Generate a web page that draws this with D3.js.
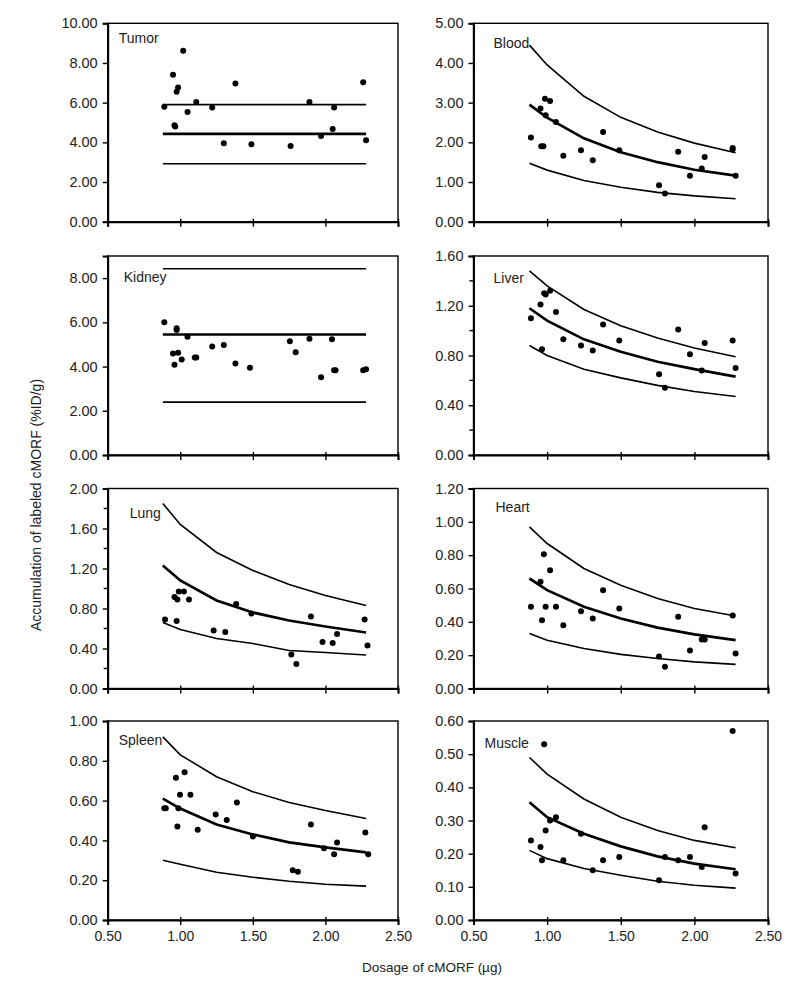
<!DOCTYPE html>
<html><head><meta charset="utf-8">
<script src="https://cdn.jsdelivr.net/npm/d3@7"></script>
<style>
html,body{margin:0;padding:0;background:#fff;}
svg{display:block;font-family:"Liberation Sans",Arial,sans-serif;}
</style></head>
<body><svg id="chart" width="800" height="987"></svg>
<script>
// ---------- data ----------
const organs = ["Tumor","Blood","Kidney","Liver","Lung","Heart","Spleen","Muscle"];
const yMaxes = [10, 5, 9, 1.6, 2.0, 1.2, 1.0, 0.6];
const yTicks = [
  [0,2,4,6,8,10],[0,1,2,3,4,5],[0,2,4,6,8],[0,0.4,0.8,1.2,1.6],
  [0,0.4,0.8,1.2,1.6,2.0],[0,0.2,0.4,0.6,0.8,1.0,1.2],[0,0.2,0.4,0.6,0.8,1.0],[0,0.1,0.2,0.3,0.4,0.5,0.6]
];
const xTicks = [0.5, 1.0, 1.5, 2.0, 2.5];

const tumorPoints = [[0.89,5.80],[0.95,7.41],[0.96,4.86],[0.965,4.80],[0.975,6.55],[0.985,6.77],[1.02,8.62],[1.05,5.53],[1.11,6.03],[1.22,5.75],[1.30,3.95],[1.38,6.96],[1.49,3.90],[1.76,3.82],[1.89,6.03],[1.97,4.32],[2.05,4.67],[2.06,5.75],[2.26,7.03],[2.28,4.10]];
const bloodPoints = [[0.89,2.12],[0.955,2.85],[0.96,1.90],[0.975,1.90],[0.985,3.10],[0.99,2.68],[1.02,3.04],[1.06,2.51],[1.11,1.66],[1.23,1.80],[1.31,1.55],[1.38,2.26],[1.49,1.80],[1.76,0.92],[1.80,0.71],[1.89,1.76],[1.97,1.16],[2.05,1.34],[2.07,1.63],[2.26,1.86],[2.26,1.82],[2.28,1.16]];
const kidneyPoints = [[0.89,6.00],[0.95,4.59],[0.96,4.08],[0.975,5.73],[0.975,5.65],[0.985,4.62],[1.01,4.32],[1.05,5.35],[1.10,4.41],[1.11,4.41],[1.22,4.91],[1.30,4.97],[1.38,4.14],[1.48,3.95],[1.755,5.15],[1.795,4.65],[1.89,5.26],[1.97,3.52],[2.045,5.24],[2.06,3.83],[2.07,3.83],[2.26,3.83],[2.28,3.88]];
const liverPoints = [[0.89,1.10],[0.955,1.21],[0.965,0.85],[0.98,1.30],[0.99,1.29],[1.02,1.32],[1.06,1.15],[1.11,0.93],[1.23,0.88],[1.31,0.84],[1.38,1.05],[1.49,0.92],[1.76,0.65],[1.80,0.54],[1.89,1.01],[1.97,0.81],[2.05,0.68],[2.07,0.90],[2.26,0.92],[2.28,0.70]];
const lungPoints = [[0.895,0.69],[0.96,0.915],[0.975,0.675],[0.98,0.89],[0.99,0.97],[1.025,0.97],[1.06,0.89],[1.23,0.58],[1.31,0.565],[1.385,0.845],[1.49,0.75],[1.765,0.34],[1.80,0.246],[1.90,0.72],[1.98,0.466],[2.05,0.456],[2.08,0.546],[2.27,0.69],[2.29,0.43]];
const heartPoints = [[0.89,0.49],[0.955,0.64],[0.965,0.41],[0.978,0.806],[0.99,0.49],[1.02,0.71],[1.06,0.49],[1.11,0.38],[1.23,0.464],[1.31,0.42],[1.38,0.59],[1.49,0.48],[1.76,0.192],[1.80,0.13],[1.89,0.43],[1.97,0.228],[2.05,0.294],[2.07,0.294],[2.26,0.438],[2.28,0.21]];
const spleenPoints = [[0.89,0.562],[0.90,0.562],[0.97,0.715],[0.98,0.47],[0.987,0.562],[0.998,0.63],[1.03,0.743],[1.07,0.63],[1.12,0.453],[1.244,0.53],[1.32,0.503],[1.39,0.59],[1.50,0.42],[1.775,0.25],[1.81,0.243],[1.90,0.48],[1.99,0.36],[2.06,0.33],[2.08,0.39],[2.275,0.44],[2.295,0.33]];
const musclePoints = [[0.89,0.24],[0.955,0.22],[0.965,0.18],[0.98,0.53],[0.99,0.27],[1.02,0.30],[1.06,0.31],[1.11,0.18],[1.23,0.26],[1.31,0.15],[1.38,0.18],[1.49,0.19],[1.76,0.12],[1.80,0.19],[1.89,0.18],[1.97,0.19],[2.05,0.16],[2.07,0.28],[2.26,0.57],[2.28,0.14]];

// fitted curves (upper, mean, lower) read at these doses
const curveDose = [0.88, 1.00, 1.25, 1.50, 1.75, 2.00, 2.28];
const tumorUpper = [5.90,5.90,5.90,5.90,5.90,5.90,5.90];
const tumorMean  = [4.43,4.43,4.43,4.43,4.43,4.43,4.43];
const tumorLower = [2.92,2.92,2.92,2.92,2.92,2.92,2.92];
const bloodUpper = [4.45,3.95,3.16,2.63,2.26,1.98,1.74];
const bloodMean  = [2.95,2.62,2.10,1.75,1.50,1.31,1.16];
const bloodLower = [1.47,1.30,1.04,0.87,0.74,0.65,0.58];
const kidneyUpper = [8.42,8.42,8.42,8.42,8.42,8.42,8.42];
const kidneyMean  = [5.45,5.45,5.45,5.45,5.45,5.45,5.45];
const kidneyLower = [2.39,2.39,2.39,2.39,2.39,2.39,2.39];
const liverUpper = [1.48,1.36,1.17,1.04,0.94,0.86,0.79];
const liverMean  = [1.18,1.08,0.93,0.83,0.75,0.69,0.63];
const liverLower = [0.88,0.80,0.69,0.62,0.56,0.51,0.47];
const lungUpper = [1.85,1.64,1.36,1.18,1.04,0.93,0.83];
const lungMean  = [1.23,1.08,0.88,0.76,0.68,0.62,0.56];
const lungLower = [0.66,0.59,0.50,0.45,0.38,0.36,0.335];
const heartUpper = [0.97,0.87,0.72,0.62,0.54,0.48,0.435];
const heartMean  = [0.66,0.59,0.49,0.42,0.365,0.325,0.29];
const heartLower = [0.33,0.29,0.24,0.205,0.18,0.16,0.145];
const spleenUpper = [0.92,0.83,0.72,0.645,0.59,0.55,0.51];
const spleenMean  = [0.61,0.56,0.48,0.43,0.39,0.365,0.34];
const spleenLower = [0.30,0.28,0.24,0.215,0.195,0.18,0.17];
const muscleUpper = [0.49,0.44,0.365,0.31,0.27,0.24,0.218];
const muscleMean  = [0.355,0.31,0.26,0.222,0.192,0.17,0.153];
const muscleLower = [0.21,0.185,0.155,0.135,0.117,0.105,0.096];

const pointsList = [tumorPoints,bloodPoints,kidneyPoints,liverPoints,lungPoints,heartPoints,spleenPoints,musclePoints];
const curvesList = [
  [tumorUpper,tumorMean,tumorLower],[bloodUpper,bloodMean,bloodLower],
  [kidneyUpper,kidneyMean,kidneyLower],[liverUpper,liverMean,liverLower],
  [lungUpper,lungMean,lungLower],[heartUpper,heartMean,heartLower],
  [spleenUpper,spleenMean,spleenLower],[muscleUpper,muscleMean,muscleLower]
];

// ---------- layout ----------
const colX = [[107.7, 398], [473.5, 768]];
const rowY = [[23.3, 221.7], [256, 455], [488.5, 688.5], [721, 920]];
const labelPos = [[11,20],[20,25],[16,26],[20,27],[22,29],[22,23],[11,24],[11,27]];
const minorStep = [null,null,null,0.2,0.2,null,null,null];

const svg = d3.select("#chart");
const fmt = d3.format(".2f");

organs.forEach((name, i) => {
  const col = i % 2, row = Math.floor(i / 2);
  const [x0, x1] = colX[col];
  const [y0, y1] = rowY[row];
  const x = d3.scaleLinear().domain([0.5, 2.5]).range([x0, x1]);
  const y = d3.scaleLinear().domain([0, yMaxes[i]]).range([y1, y0]);
  const g = svg.append("g");

  // frame
  g.append("rect").attr("x", x0).attr("y", y0).attr("width", x1 - x0).attr("height", y1 - y0)
    .attr("fill", "none").attr("stroke", "#000").attr("stroke-width", 1.4);

  // y axis
  const ya = g.append("g").attr("transform", `translate(${x0},0)`)
    .call(d3.axisLeft(y).tickValues(yTicks[i]).tickFormat(fmt).tickSize(5).tickPadding(5));
  ya.select(".domain").attr("stroke-width", 2);
  ya.selectAll(".tick line").attr("stroke-width", 1.4);
  ya.selectAll("text").attr("font-size", 14.5).attr("fill", "#222").attr("font-family", "Liberation Sans, Arial, sans-serif");
  if (minorStep[i]) {
    const minors = d3.range(minorStep[i], yMaxes[i], minorStep[i] * 2);
    g.selectAll(".minor").data(minors).enter().append("line")
      .attr("x1", x0 - 4).attr("x2", x0).attr("y1", d => y(d)).attr("y2", d => y(d))
      .attr("stroke", "#000").attr("stroke-width", 1.4);
  }

  // x axis
  const xa = g.append("g").attr("transform", `translate(0,${y1})`)
    .call(d3.axisBottom(x).tickValues(xTicks).tickFormat(row === 3 ? fmt : () => "").tickSize(5).tickPadding(6));
  xa.select(".domain").attr("stroke-width", 2);
  xa.selectAll(".tick line").attr("stroke-width", 1.4).attr("y1", -3);
  xa.selectAll("text").attr("font-size", 14).attr("fill", "#222").attr("font-family", "Liberation Sans, Arial, sans-serif");

  // curves
  const line = d3.line().x((d, k) => x(curveDose[k])).y(d => y(d));
  curvesList[i].forEach((vals, k) => {
    g.append("path").datum(vals).attr("d", line)
      .attr("fill", "none").attr("stroke", "#000")
      .attr("stroke-width", k === 1 ? 2.7 : 1.6);
  });

  // points
  g.selectAll("circle").data(pointsList[i]).enter().append("circle")
    .attr("cx", d => x(d[0])).attr("cy", d => y(d[1])).attr("r", 3).attr("fill", "#000");

  // panel label
  g.append("text").attr("x", x0 + labelPos[i][0]).attr("y", y0 + labelPos[i][1])
    .attr("font-size", 14).attr("fill", "#222").text(name);
});

// axis titles
svg.append("text").attr("x", 432).attr("y", 972).attr("text-anchor", "middle")
  .attr("font-size", 13.5).attr("fill", "#222").text("Dosage of cMORF (\u00b5g)");
svg.append("text").attr("transform", "translate(41,505) rotate(-90)").attr("text-anchor", "middle")
  .attr("font-size", 14).attr("fill", "#222").text("Accumulation of labeled cMORF (%ID/g)");
</script></body></html>
